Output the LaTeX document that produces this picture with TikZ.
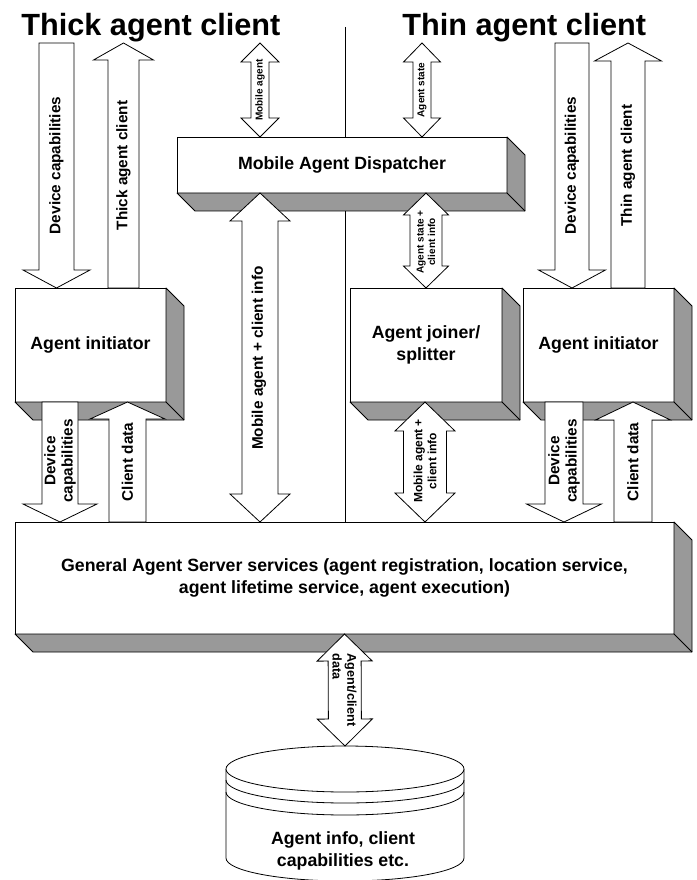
\documentclass[tikz,border=0pt]{standalone}
\usepackage{fontspec}
\setmainfont{Liberation Sans}
\usetikzlibrary{calc}
\definecolor{slabgray}{HTML}{999999}

% block arrows: tail, tip, shaft half width, head half width, head length (px)
\newcommand{\blockarrow}[5]{%
  \coordinate (hb) at ($(#2)!#5*0.75pt!(#1)$);
  \draw[fatarrow] ($(#1)!#3*0.75pt!90:(#2)$) -- ($(hb)!#3*0.75pt!-90:(#1)$)
    -- ($(hb)!#4*0.75pt!-90:(#1)$) -- (#2) -- ($(hb)!#4*0.75pt!90:(#1)$)
    -- ($(hb)!#3*0.75pt!90:(#1)$) -- ($(#1)!#3*0.75pt!-90:(#2)$) -- cycle;
}
\newcommand{\blockarrows}[5]{%
  \coordinate (ha) at ($(#1)!#5*0.75pt!(#2)$);
  \coordinate (hb) at ($(#2)!#5*0.75pt!(#1)$);
  \draw[fatarrow] (#1) -- ($(ha)!#4*0.75pt!90:(#2)$) -- ($(ha)!#3*0.75pt!90:(#2)$)
    -- ($(hb)!#3*0.75pt!-90:(#1)$) -- ($(hb)!#4*0.75pt!-90:(#1)$) -- (#2)
    -- ($(hb)!#4*0.75pt!90:(#1)$) -- ($(hb)!#3*0.75pt!90:(#1)$)
    -- ($(ha)!#3*0.75pt!-90:(#2)$) -- ($(ha)!#4*0.75pt!-90:(#2)$) -- cycle;
}
% grey bottom and right faces of a slab
\newcommand{\slabdepth}[1]{%
  \draw[slabside] (#1.north east) -- ++(18,18) -- ($(#1.south east)+(18,18)$)
    -- ($(#1.south west)+(18,18)$) -- (#1.south west) -- (#1.south east) -- cycle;
  \draw[slabside] (#1.south east) -- ++(18,18);
}

\begin{document}
\begin{tikzpicture}[
    x=0.75pt, y=-0.75pt,
    line width=0.6pt,
    slab/.style={rectangle, draw, fill=white, inner sep=0pt, outer sep=0pt, align=center,
      font=\bfseries\fontsize{13.3}{16.5}\selectfont},
    slabside/.style={draw, fill=slabgray, line join=round},
    fatarrow/.style={draw, fill=white, line join=miter},
    title/.style={inner sep=0pt, anchor=base west, font=\bfseries\fontsize{23}{26}\selectfont},
    alabel/.style={inner sep=0pt, rotate=90, align=center, font=\bfseries\fontsize{11.5}{13}\selectfont},
    slabel/.style={inner sep=0pt, rotate=90, align=center, font=\bfseries\fontsize{7.5}{8.5}\selectfont}
  ]
\useasboundingbox (0,0) rectangle (696,880);

% Titles and divider
\node[title] (thick) at (21,36) {Thick agent client};
\node[title] (thin) at (402,36) {Thin agent client};
\coordinate (divtop) at (345,27);
\coordinate (divbot) at (345,522);
\draw (divtop) -- (divbot);

% Slabs
\node[slab, minimum width=247.5pt, minimum height=42pt] (disp) at (342,165) {Mobile Agent Dispatcher};
\node[slab, minimum width=113.25pt, minimum height=85.5pt] (initL) at (90.5,345) {Agent initiator};
\node[slab, minimum width=114pt, minimum height=85.5pt] (join) at (426,345) {Agent joiner/\\splitter};
\node[slab, minimum width=113.25pt, minimum height=85.5pt] (initR) at (598.5,345) {Agent initiator};
\node[slab, minimum width=494.25pt, minimum height=84pt] (server) at (344.5,578)
  {General Agent Server services (agent registration, location service,\\agent lifetime service, agent execution)};
\slabdepth{disp}
\slabdepth{initL}
\slabdepth{join}
\slabdepth{initR}
\slabdepth{server}

% Free ends at the top
\coordinate (dcLin) at (56.5,43);
\coordinate (tacLout) at (123.5,43);
\coordinate (main) at (260,43);
\coordinate (asin) at (422,43);
\coordinate (dcRin) at (572,43);
\coordinate (tacRout) at (628,43);

% Arrows, thick side
\blockarrow{dcLin}{dcLin |- initL.north}{17.5}{33.5}{18}
\blockarrow{tacLout |- initL.north}{tacLout}{15.5}{30}{17}
\blockarrows{main}{main |- disp.north}{9}{19}{19}
\blockarrows{main |- disp.south}{main |- server.north}{18}{30}{28}
\blockarrow{60,0 |- initL.south}{60,0 |- server.north}{18}{37}{18}
\blockarrow{127.5,0 |- server.north}{127.5,0 |- initL.south}{18.5}{37.5}{17}

% Arrows, thin side
\blockarrows{asin}{asin |- disp.north}{9}{18.5}{19}
\blockarrows{426,0 |- disp.south}{426,0 |- join.north}{16}{22.5}{22}
\blockarrow{dcRin}{dcRin |- initR.north}{17}{33.5}{18}
\blockarrow{tacRout |- initR.north}{tacRout}{17}{33.5}{18}
\blockarrows{425,0 |- join.south}{425,0 |- server.north}{21.5}{30}{29}
\blockarrow{564,0 |- initR.south}{564,0 |- server.north}{19}{37.5}{18}
\blockarrow{633,0 |- server.north}{633,0 |- initR.south}{19}{37.5}{18}

% Database
\coordinate (dbtop) at (345,746);
\draw[fill=white] (226,769) -- (226,858) arc[start angle=180, end angle=360, x radius=89.25pt, y radius=17.25pt] -- (464,769);
\draw[fill=white] (345,769) ellipse [x radius=89.25pt, y radius=17.25pt];
\draw (226,780) arc[start angle=180, end angle=360, x radius=89.25pt, y radius=17.25pt];
\draw (226,792) arc[start angle=180, end angle=360, x radius=89.25pt, y radius=17.25pt];
\node[inner sep=0pt, align=center, font=\bfseries\fontsize{13.3}{16.5}\selectfont] (db) at (343,851)
  {Agent info, client\\capabilities etc.};
\blockarrows{344.5,0 |- server.south}{dbtop}{16.5}{27.5}{27}

% Arrow labels
\node[alabel] (dcLtxt) at ($(dcLin)!0.5!(dcLin |- initL.north)$) {Device capabilities};
\node[alabel] (tacLtxt) at ($(tacLout)!0.5!(tacLout |- initL.north)$) {Thick agent client};
\node[slabel] (matxt) at ($(main)!0.5!(main |- disp.north)$) {Mobile agent};
\node[alabel] (macitxt) at (259,358) {Mobile agent + client info};
\node[alabel] (dcL2txt) at (60,461) {Device\\capabilities};
\node[alabel] (cdLtxt) at (127.5,462) {Client data};
\node[slabel] (astxt) at ($(asin)!0.5!(asin |- disp.north)$) {Agent state};
\node[slabel] (ascitxt) at (426,242) {Agent state +\\client info};
\node[alabel] (dcRtxt) at ($(dcRin)!0.5!(dcRin |- initR.north)$) {Device capabilities};
\node[alabel] (tacRtxt) at ($(tacRout)!0.5!(tacRout |- initR.north)$) {Thin agent client};
\node[alabel, font=\bfseries\fontsize{9}{10.5}\selectfont] (maci2txt) at (425,461) {Mobile agent +\\client info};
\node[alabel] (dcR2txt) at (564,461) {Device\\capabilities};
\node[alabel] (cdRtxt) at (633,462) {Client data};
\node[alabel, rotate=-180, align=left, font=\bfseries\fontsize{9.5}{11}\selectfont] (acdtxt) at (344.5,690) {Agent/client\\data};

\end{tikzpicture}
\end{document}
